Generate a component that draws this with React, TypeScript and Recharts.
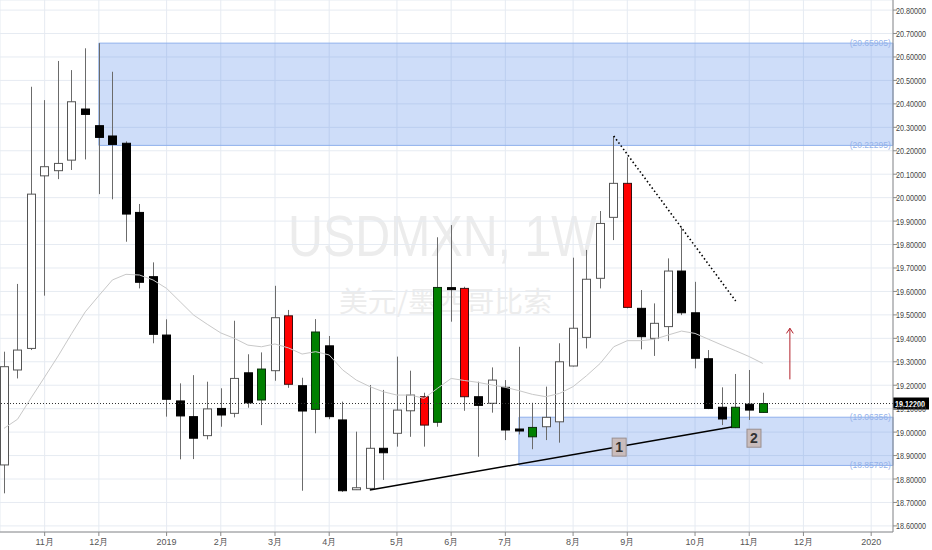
import React from 'react';
import {
  ComposedChart,
  Bar,
  Line,
  XAxis,
  YAxis,
  CartesianGrid,
  ReferenceArea,
  ReferenceLine,
  ReferenceDot,
} from 'recharts';

// USDMXN weekly candles, first bar = week of 2018-10-15
const opens = [
  18.86, 19.265, 19.357, 20.093, 20.115, 20.16, 20.378, 20.307, 20.263, 20.232,
  19.937, 19.663, 19.414, 19.133, 19.066, 18.985, 19.101, 19.08, 19.253, 19.137,
  19.262, 19.496, 19.198, 19.097, 19.368, 19.052, 18.757, 18.76, 18.931, 18.995,
  19.091, 19.151, 19.042, 19.614, 19.613, 19.151, 19.123, 19.191, 19.012, 18.98,
  19.023, 19.044, 19.282, 19.404, 19.656, 19.916, 20.061, 19.528, 19.4, 19.45,
  19.687, 19.509, 19.313, 19.106, 19.019, 19.119, 19.084,
];
const highs = [
  19.343, 19.632, 20.473, 20.416, 20.583, 20.544, 20.637, 20.659, 20.537, 20.24,
  19.973, 19.724, 19.481, 19.208, 19.243, 19.215, 19.187, 19.475, 19.332, 19.34,
  19.624, 19.521, 19.232, 19.482, 19.41, 19.13, 19.002, 19.201, 19.18, 19.322,
  19.262, 19.168, 19.831, 19.883, 19.62, 19.215, 19.276, 19.222, 19.364, 19.125,
  19.194, 19.379, 19.744, 19.777, 19.943, 20.263, 20.172, 19.606, 19.549, 19.741,
  19.873, 19.641, 19.35, 19.191, 19.248, 19.265, 19.168,
];
const lows = [
  18.739, 19.229, 19.35, 19.582, 20.079, 20.118, 20.163, 20.015, 19.993, 19.812,
  19.613, 19.379, 19.066, 18.884, 18.885, 18.969, 19.023, 19.063, 19.104, 19.03,
  19.219, 19.189, 18.75, 18.995, 19.055, 18.745, 18.753, 18.753, 18.796, 18.938,
  18.98, 18.938, 19.023, 19.471, 19.091, 18.895, 19.083, 18.966, 18.99, 18.927,
  18.966, 18.955, 19.28, 19.357, 19.613, 19.819, 19.528, 19.353, 19.325, 19.388,
  19.499, 19.272, 19.098, 19.03, 19.017, 19.052, 19.082,
];
const closes = [
  19.279, 19.35, 20.015, 20.132, 20.146, 20.409, 20.355, 20.257, 20.227, 19.93,
  19.639, 19.417, 19.14, 19.069, 18.974, 19.099, 19.073, 19.229, 19.125, 19.269,
  19.488, 19.204, 19.09, 19.427, 19.066, 18.75, 18.76, 18.931, 18.912, 19.094,
  19.158, 19.03, 19.617, 19.61, 19.151, 19.114, 19.222, 19.009, 19.006, 19.02,
  19.063, 19.3, 19.443, 19.652, 19.89, 20.061, 19.532, 19.407, 19.464, 19.687,
  19.509, 19.315, 19.101, 19.056, 19.106, 19.094, 19.122,
];
// moving average line
const movingAverage = [
  19.016, 19.055, 19.146, 19.235, 19.325, 19.421, 19.513, 19.582, 19.649, 19.673,
  19.67, 19.649, 19.613, 19.556, 19.499, 19.46, 19.423, 19.4, 19.371, 19.364,
  19.376, 19.359, 19.333, 19.343, 19.329, 19.265, 19.222, 19.194, 19.172, 19.158,
  19.158, 19.144, 19.187, 19.229, 19.22, 19.212, 19.201, 19.191, 19.177, 19.161,
  19.151, 19.165, 19.194, 19.241, 19.293, 19.364, 19.39, 19.39, 19.396, 19.414,
  19.431, 19.421, 19.396, 19.371, 19.347, 19.322, 19.293,
];
// weeks painted by hand on the original chart
const redWeeks = [21, 31, 34, 46];
const greenWeeks = [19, 23, 32, 39, 54, 56];

const monthTicks = [3, 7, 12, 16, 20, 24, 29, 33, 37, 42, 46, 51, 55, 59, 64];
const monthLabels = ['11月', '12月', '2019', '2月', '3月', '4月', '5月', '6月', '7月', '8月', '9月', '10月', '11月', '12月', '2020'];
const priceTicks = [
  18.6, 18.7, 18.8, 18.9, 19.0, 19.1, 19.2, 19.3, 19.4, 19.5, 19.6, 19.7, 19.8,
  19.9, 20.0, 20.1, 20.2, 20.3, 20.4, 20.5, 20.6, 20.7, 20.8,
];

const supplyZone = [20.22295, 20.65905];
const supplyStart = 7;
const demandZone = [18.85792, 19.06356];
const demandStart = 38;
const lastPrice = 19.122;
const trendUp = [{ x: 27, y: 18.753 }, { x: 53.7, y: 19.022 }];
const trendDown = [{ x: 45, y: 20.263 }, { x: 54, y: 19.559 }];
const arrowWeek = 58;
const arrowFrom = 19.225;
const arrowTo = 19.443;
const markers = [
  { label: '1', x: 45.4, y: 18.936 },
  { label: '2', x: 55.35, y: 18.974 },
];

const X_MIN = -0.295;
const X_MAX = 65.61;

const data = opens.map((open, i) => ({
  week: i,
  open,
  high: highs[i],
  low: lows[i],
  close: closes[i],
  range: [lows[i], highs[i]],
  ma: movingAverage[i],
}));

const axisFont = "'Liberation Sans Narrow', 'Liberation Sans', Arial, sans-serif";

const Candle = (props: any) => {
  const { x, y, width, height, payload } = props;
  const { open, close, high, low, week } = payload;
  const py = (v: number) => y + ((high - v) / (high - low)) * height;
  const cx = Math.round(x + width / 2) + 0.5;
  let top = py(Math.max(open, close));
  let bottom = py(Math.min(open, close));
  if (bottom - top < 2) {
    const mid = (top + bottom) / 2;
    top = mid - 1;
    bottom = mid + 1;
  }
  const up = close >= open;
  let fill = up ? '#ffffff' : '#000000';
  let stroke = up ? '#555555' : '#000000';
  if (redWeeks.includes(week)) {
    fill = '#ff0000';
    stroke = '#3a1010';
  }
  if (greenWeeks.includes(week)) {
    fill = '#008000';
    stroke = '#0b2e0b';
  }
  return (
    <g>
      <line x1={cx} x2={cx} y1={y} y2={y + height} stroke="#6b6b6b" strokeWidth={1} />
      <rect
        x={cx - 4}
        y={top}
        width={8}
        height={bottom - top}
        fill={fill}
        stroke={stroke}
        strokeWidth={1}
      />
    </g>
  );
};

const PriceTick = (props: any) => {
  const { x, y, payload } = props;
  return (
    <text
      x={x - 3}
      y={y + 3.5}
      fontSize={9.5}
      fill="#444"
      fontFamily={axisFont}
      textLength={30}
      lengthAdjust="spacingAndGlyphs"
    >
      {payload.value.toFixed(5)}
    </text>
  );
};

const MonthTick = (props: any) => {
  const { x, y, payload } = props;
  const label = monthLabels[monthTicks.indexOf(payload.value)];
  return (
    <text x={x} y={y + 7} textAnchor="middle" fontSize={9} fill="#555" fontFamily={axisFont}>
      {label}
    </text>
  );
};

const LastPriceLabel = (props: any) => {
  const { viewBox } = props;
  const right = viewBox.x + viewBox.width;
  return (
    <g>
      <rect x={right} y={viewBox.y - 6} width={36} height={12} fill="#000" />
      <text
        x={right + 2}
        y={viewBox.y + 3.5}
        fontSize={9.5}
        fontWeight="bold"
        fill="#fff"
        fontFamily={axisFont}
        textLength={30}
        lengthAdjust="spacingAndGlyphs"
      >
        {lastPrice.toFixed(5)}
      </text>
    </g>
  );
};

const zoneLabel = (value: number) => (props: any) => (
  <text
    x={props.cx}
    y={props.cy + 3}
    textAnchor="end"
    fontSize={8.5}
    fill="#94b2ea"
    fontFamily={axisFont}
  >
    ({value.toFixed(5)})
  </text>
);

const markerShape = (label: string) => (props: any) => (
  <g>
    <rect x={props.cx - 7} y={props.cy - 9} width={14} height={18} fill="#c9bcbc" stroke="#9a8f8f" />
    <text
      x={props.cx}
      y={props.cy + 5}
      textAnchor="middle"
      fontSize={14}
      fontWeight="bold"
      fill="#333"
      fontFamily="'Liberation Sans', Arial, sans-serif"
    >
      {label}
    </text>
  </g>
);

const App: React.FC = () => {
  return (
    <div style={{ position: 'absolute', left: 0, top: 0, width: 932, height: 550, background: '#fff' }}>
      <svg width={932} height={550} style={{ position: 'absolute', left: 0, top: 0 }}>
        <text
          x={288}
          y={256}
          fontSize={58}
          fill="#ececec"
          fontFamily="'Liberation Sans', Arial, sans-serif"
          textLength={309}
          lengthAdjust="spacingAndGlyphs"
        >
          USDMXN, 1W
        </text>
        <text
          x={339}
          y={312}
          fontSize={28}
          fill="#ececec"
          fontFamily="'Noto Sans CJK SC', sans-serif"
          textLength={213}
          lengthAdjust="spacingAndGlyphs"
        >
          美元/墨西哥比索
        </text>
      </svg>
      <div style={{ position: 'absolute', left: 0, top: 0 }}>
        <ComposedChart width={932} height={550} data={data} margin={{ top: 0, right: 0, bottom: 0, left: 0 }}>
          <CartesianGrid stroke="#e6ebf2" />
          <XAxis
            dataKey="week"
            type="number"
            domain={[X_MIN, X_MAX]}
            ticks={monthTicks}
            interval={0}
            allowDataOverflow
            height={18}
            tickSize={4}
            axisLine={{ stroke: '#8a8a8a' }}
            tickLine={{ stroke: '#8a8a8a' }}
            tick={<MonthTick />}
          />
          <YAxis
            orientation="right"
            type="number"
            domain={[18.574, 20.843]}
            ticks={priceTicks}
            interval={0}
            allowDataOverflow
            width={39}
            tickSize={4}
            axisLine={{ stroke: '#8a8a8a' }}
            tickLine={{ stroke: '#8a8a8a' }}
            tick={<PriceTick />}
          />
          <ReferenceArea
            x1={supplyStart}
            x2={X_MAX}
            y1={supplyZone[0]}
            y2={supplyZone[1]}
            fill="#3c78e6"
            fillOpacity={0.25}
            stroke="#8fb0ec"
          />
          <ReferenceArea
            x1={demandStart}
            x2={X_MAX}
            y1={demandZone[0]}
            y2={demandZone[1]}
            fill="#3c78e6"
            fillOpacity={0.25}
            stroke="#8fb0ec"
          />
          <Line
            dataKey="ma"
            type="linear"
            stroke="#c8c8c8"
            strokeWidth={1}
            dot={false}
            activeDot={false}
            isAnimationActive={false}
          />
          <Bar dataKey="range" barSize={9} shape={<Candle />} isAnimationActive={false} />
          <ReferenceLine y={lastPrice} stroke="#333" strokeDasharray="1 2" label={<LastPriceLabel />} />
          <ReferenceLine segment={trendUp} stroke="#000" strokeWidth={1.5} />
          <ReferenceLine segment={trendDown} stroke="#000" strokeWidth={1.6} strokeDasharray="1.5 2.5" />
          <ReferenceLine
            segment={[{ x: arrowWeek, y: arrowFrom }, { x: arrowWeek, y: arrowTo }]}
            stroke="#b3202a"
            strokeWidth={1}
          />
          <ReferenceLine
            segment={[{ x: arrowWeek - 0.25, y: arrowTo - 0.022 }, { x: arrowWeek, y: arrowTo }]}
            stroke="#b3202a"
            strokeWidth={1}
          />
          <ReferenceLine
            segment={[{ x: arrowWeek + 0.25, y: arrowTo - 0.022 }, { x: arrowWeek, y: arrowTo }]}
            stroke="#b3202a"
            strokeWidth={1}
          />
          {[...supplyZone, ...demandZone].map((v) => (
            <ReferenceDot key={v} x={65.45} y={v} r={0} shape={zoneLabel(v)} />
          ))}
          {markers.map((m) => (
            <ReferenceDot key={m.label} x={m.x} y={m.y} r={0} shape={markerShape(m.label)} />
          ))}
        </ComposedChart>
      </div>
    </div>
  );
};

export default App;
